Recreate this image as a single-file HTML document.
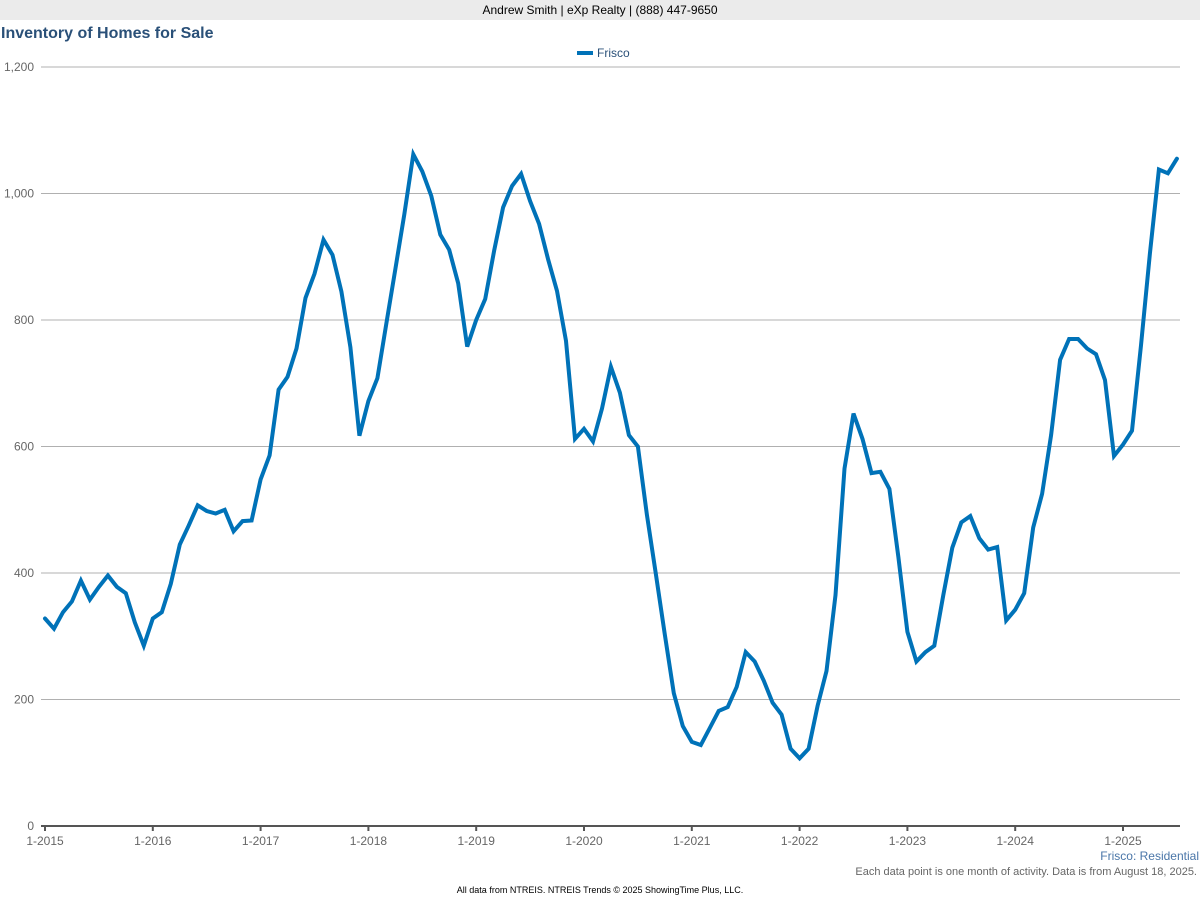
<!DOCTYPE html>
<html><head><meta charset="utf-8"><style>
body{margin:0;width:1200px;height:900px;background:#fff;font-family:"Liberation Sans",sans-serif;overflow:hidden;position:relative}
.top{position:absolute;left:0;top:0;width:1200px;height:20px;background:#ebebeb;font-size:12px;text-align:center;line-height:21px;color:#000}
.title{position:absolute;left:1px;top:25px;font-size:16px;font-weight:bold;color:#2a5078}
svg{position:absolute;left:0;top:0}
</style></head><body>
<div class="top">Andrew Smith | eXp Realty | (888) 447-9650</div>
<div class="title">Inventory of Homes for Sale</div>
<svg id="chart" width="1200" height="900"></svg>
<script>
const yTicks=[0,200,400,600,800,1000,1200];
const yTickLabels=["0","200","400","600","800","1,000","1,200"];
const xTickLabels=["1-2015","1-2016","1-2017","1-2018","1-2019","1-2020","1-2021","1-2022","1-2023","1-2024","1-2025"];
const friscoValues=[
328,312,338,355,388,358,378,396,378,368,322,285,
328,338,383,445,475,507,498,494,500,466,482,483,
548,586,690,710,755,835,873,927,903,845,757,617,
672,708,795,880,967,1062,1035,996,935,911,858,758,
800,833,910,978,1012,1031,988,952,896,846,767,612,
628,608,660,726,685,618,600,492,398,303,210,158,
133,128,155,182,188,220,275,260,230,195,176,122,
107,122,190,245,365,565,652,612,558,560,533,425,
307,260,275,285,365,440,480,490,455,437,441,325,
342,368,472,525,618,737,770,770,755,746,705,585,
603,625,760,905,1038,1032,1055];
const NS="http://www.w3.org/2000/svg";
const svg=document.getElementById('chart');
const y0=826,y1=67,x0=45,step=(1123-45)/120;
const yScale=v=>y0-(v/1200)*(y0-y1);
const xScale=i=>x0+i*step;
function mk(tag,attrs){const e=document.createElementNS(NS,tag);for(const k in attrs)e.setAttribute(k,attrs[k]);svg.appendChild(e);return e;}
yTicks.forEach((t,i)=>{
  if(t>0){const g=mk('line',{x1:41,x2:1180,y1:yScale(t),y2:yScale(t),stroke:'#b0b0b0','stroke-width':1});
  
  }
  const l=mk('text',{x:34,y:yScale(t)+4,'text-anchor':'end','font-size':12,fill:'#666'});
  l.textContent=yTickLabels[i];
  
  
});
const ax=mk('line',{x1:41,x2:1180,y1:y0,y2:y0,stroke:'#555','stroke-width':2});


xTickLabels.forEach((lab,i)=>{
  const x=xScale(i*12);
  const tk=mk('line',{x1:x,x2:x,y1:y0,y2:y0+5,stroke:'#555','stroke-width':2});
  
  
  const t=mk('text',{x:x,y:845,'text-anchor':'middle','font-size':12,fill:'#666'});
  t.textContent=lab;
  
  
});
const pts=friscoValues.map((v,i)=>xScale(i).toFixed(1)+','+yScale(v).toFixed(1)).join(' ');
const line=mk('polyline',{points:pts,fill:'none',stroke:'#0072b8','stroke-width':4,'stroke-linejoin':'miter','stroke-linecap':'round'});


const lg=mk('line',{x1:577,x2:593,y1:53,y2:53,stroke:'#0072b8','stroke-width':4});


const lt=mk('text',{x:597,y:57,'font-size':12,fill:'#2a5078'});
lt.textContent='Frisco';


const f1=mk('text',{x:1199,y:860,'text-anchor':'end','font-size':12,fill:'#4a76a8'});
f1.textContent='Frisco: Residential';


const f2=mk('text',{x:1197,y:875,'text-anchor':'end','font-size':11,fill:'#666'});
f2.textContent='Each data point is one month of activity. Data is from August 18, 2025.';


const f3=mk('text',{x:600,y:893,'text-anchor':'middle','font-size':9,fill:'#000'});
f3.textContent='All data from NTREIS. NTREIS Trends © 2025 ShowingTime Plus, LLC.';


</script>
</body></html>
